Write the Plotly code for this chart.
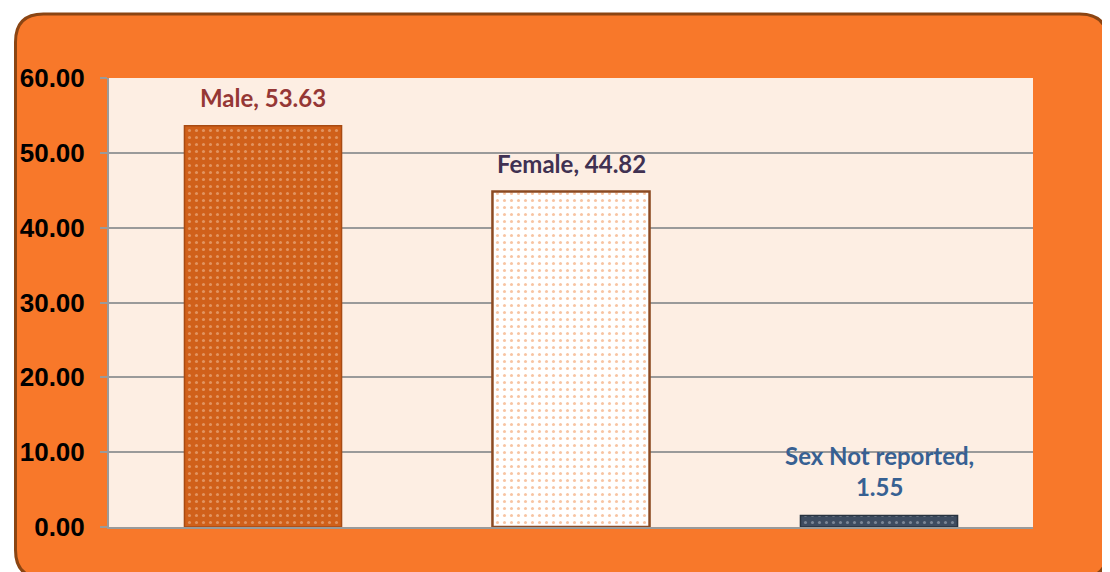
import plotly.graph_objects as go

# data
categories = ["Male", "Female", "Sex Not reported"]
values = [53.63, 44.82, 1.55]
label_colors = ["#953735", "#403152", "#376092"]
y_ticks = [0, 10, 20, 30, 40, 50, 60]

# bar styling per category
bar_fill = ["#D0601A", "#FFFFFF", "#3E4C60"]
bar_dots = ["#F3C8A6", "#F08A45", "#B9C1CD"]
bar_edge = ["#A84A12", "#8B4A22", "#27323F"]
edge_w = [1.5, 2.5, 1.5]

# geometry in page pixels (page body has an 8px margin)
OFF = 8
W, H = 1110 - OFF, 572 - OFF
PL, PR, PT, PB = 104, 1033, 78, 527


def px_x(px):
    return (px - PL) / (PR - PL)


def px_y(py):
    return (PB - py) / (PB - PT)


def rounded_frame(l, t, r, b, rad):
    # rounded rectangle path in paper coords
    pts = [
        f"M {px_x(l + rad)},{px_y(t)}",
        f"L {px_x(r - rad)},{px_y(t)}",
        f"Q {px_x(r)},{px_y(t)} {px_x(r)},{px_y(t + rad)}",
        f"L {px_x(r)},{px_y(b - rad)}",
        f"Q {px_x(r)},{px_y(b)} {px_x(r - rad)},{px_y(b)}",
        f"L {px_x(l + rad)},{px_y(b)}",
        f"Q {px_x(l)},{px_y(b)} {px_x(l)},{px_y(b - rad)}",
        f"L {px_x(l)},{px_y(t + rad)}",
        f"Q {px_x(l)},{px_y(t)} {px_x(l + rad)},{px_y(t)}",
        "Z",
    ]
    return " ".join(pts)


fig = go.Figure()

for i, cat in enumerate(categories):
    fig.add_trace(go.Bar(
        x=[cat],
        y=[values[i]],
        width=0.51,
        marker=dict(
            color=bar_fill[i],
            line=dict(color=bar_edge[i], width=edge_w[i]),
            pattern=dict(shape=".", fgcolor=bar_dots[i], size=7,
                         solidity=0.15, fillmode="overlay"),
        ),
        hoverinfo="skip",
    ))

# data labels
for cat, val, col in zip(categories, values, label_colors):
    sep = "<br>" if len(cat) > 10 else " "
    fig.add_annotation(
        x=cat, y=val, text=f"{cat},{sep}{val:.2f}",
        showarrow=False, yanchor="bottom", yshift=12,
        font=dict(family="Lato", size=24, color=col, weight="bold"),
    )

# orange rounded frame and pale plot background
fig.add_shape(
    type="path", xref="paper", yref="paper", layer="below",
    path=rounded_frame(10, 14, 1108, 578, 28),
    fillcolor="#F8782A", line=dict(color="#8B4513", width=3),
)
fig.add_shape(
    type="rect", xref="paper", yref="paper", layer="below",
    x0=0, x1=1, y0=0, y1=1,
    fillcolor="#FDEEE3", line=dict(width=0),
)

fig.update_layout(
    width=W, height=H,
    margin=dict(l=PL - OFF, r=W - (PR - OFF), t=PT - OFF, b=H - (PB - OFF)),
    paper_bgcolor="white",
    plot_bgcolor="#FDEEE3",
    showlegend=False,
    barmode="overlay",
)
fig.update_xaxes(
    showticklabels=False, ticks="",
    showline=True, linecolor="#9A9A9A", linewidth=2,
    showgrid=False, zeroline=False,
)
fig.update_yaxes(
    range=[0, 60], tickvals=y_ticks, tickformat=".2f",
    tickfont=dict(family="Liberation Sans", size=26, color="black", weight="bold"),
    ticks="outside", ticklen=7, tickcolor="#9A9A9A", tickwidth=1.5,
    showline=True, linecolor="#9A9A9A", linewidth=2,
    showgrid=True, gridcolor="#9A9A9A", gridwidth=1.5,
    zeroline=False, ticklabelstandoff=10,
)

fig.write_html("out.html")
